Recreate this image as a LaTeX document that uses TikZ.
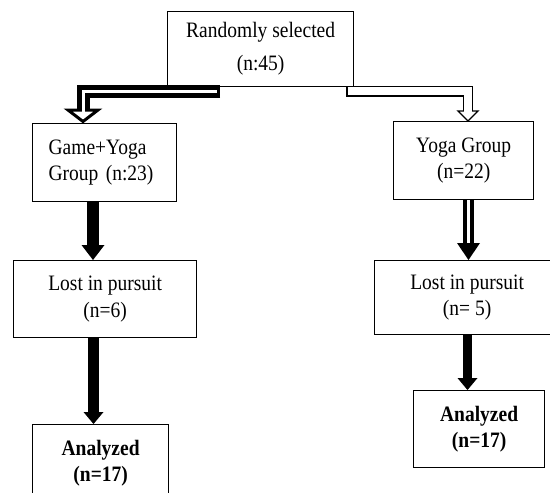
\documentclass[tikz,border=0pt]{standalone}
\usepackage{fontspec}
\setmainfont{Liberation Serif}[FakeStretch=0.886]
\usetikzlibrary{calc,arrows.meta}
\begin{document}
\begin{tikzpicture}[x=1pt,y=-1pt,
  box/.style={draw=black, line width=1.3pt, rectangle, anchor=north west,
    inner sep=0pt, align=center, font=\fontsize{22}{26.5}\selectfont},
  shaft/.style={line width=#1, line join=miter},
  solidtip/.style n args={3}{line width=#1, -{Triangle[length=#2, width=#3, line width=0pt]}},
  openhead/.style={line width=#1, fill=white, draw=black, line join=miter}
]
\useasboundingbox (0,0) rectangle (550,493);
\clip (0,0) rectangle (550,493);

% boxes
\node[box, font=\fontsize{22}{33}\selectfont, minimum width=186pt, minimum height=75pt] (top) at (167,11) {Randomly selected\\(n:45)};
\node[box, minimum width=144pt, minimum height=78pt, text width=112pt, align=left] (gy) at (32,123) {Game+Yoga\\Group (n:23)};
\node[box, minimum width=140pt, minimum height=78pt] (yg) at (393,121) {Yoga Group\\(n=22)};
\node[box, minimum width=183pt, minimum height=77pt] (lostL) at (13,260) {Lost in pursuit\\(n=6)};
\node[box, minimum width=185pt, minimum height=74pt] (lostR) at (374,260) {Lost in pursuit\\(n= 5)};
\node[box, minimum width=136pt, minimum height=77pt] (anaL) at (32,424) {\textbf{Analyzed}\\\textbf{(n=17)}};
\node[box, minimum width=131pt, minimum height=77pt] (anaR) at (413,390) {\textbf{Analyzed}\\\textbf{(n=17)}};

% top-left: thick double arrow
\coordinate (tl0) at ($(top.south west)+(53,4.5)$);
\coordinate (tl1) at ($(gy.north west)+(51,-13)$);
\draw[shaft=13pt] (tl0) -| (tl1);
\draw[openhead=3pt] ($(gy.north west)+(36,-13)$) -- ($(gy.north west)+(66,-13)$) -- ($(gy.north west)+(51,-1.5)$) -- cycle;
\draw[shaft=3pt, white, shorten <=3.5pt] (tl0) -| ($(tl1)+(0,2)$);

% top-right: hollow arrow
\coordinate (tr0) at ($(top.south east)+(-8,4)$);
\coordinate (tr1) at ($(yg.north west)+(75,-10)$);
\draw[shaft=10.5pt] (tr0) -| (tr1);
\draw[openhead=1.3pt] ($(yg.north west)+(65,-10)$) -- ($(yg.north west)+(85,-10)$) -- ($(yg.north west)+(75,0)$) -- cycle;
\draw[shaft=8pt, white, shorten <=1.3pt] (tr0) -| ($(tr1)+(0,1.5)$);

% Yoga Group -> Lost (right): double shaft, solid head
\draw[solidtip={10.5pt}{17pt}{23pt}] ($(yg.south west)+(75.5,0)$) -- ($(lostR.north west)+(94.5,0)$);
\draw[shaft=3.5pt, white] ($(yg.south west)+(75.5,0)$) -- ($(lostR.north west)+(94.5,-17)$);

% solid arrows
\draw[solidtip={12pt}{15pt}{23pt}] ($(gy.south west)+(61,0)$) -- ($(lostL.north west)+(80,0)$);
\draw[solidtip={11pt}{12pt}{20pt}] ($(lostL.south west)+(80.5,0)$) -- ($(anaL.north west)+(61.5,0)$);
\draw[solidtip={9.5pt}{12pt}{20pt}] ($(lostR.south west)+(93.5,0)$) -- ($(anaR.north west)+(54.5,0)$);
\end{tikzpicture}
\end{document}
